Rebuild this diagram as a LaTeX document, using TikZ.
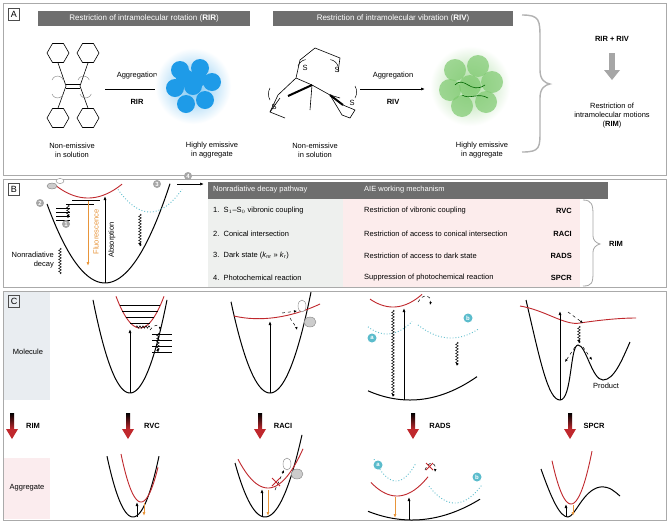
\documentclass[tikz,border=0pt]{standalone}
\usepackage{fontspec}
\setmainfont{Liberation Sans}
\usetikzlibrary{decorations.pathmorphing,arrows.meta,shapes.geometric}
\definecolor{hdr}{HTML}{6E6E6E}
\definecolor{frm}{HTML}{AAAAAA}
\definecolor{rd}{HTML}{C0282D}
\definecolor{org}{HTML}{E8953A}
\definecolor{cy}{HTML}{5BBCCC}
\definecolor{lbg}{HTML}{EEF0EE}
\definecolor{pbg}{HTML}{FCECEC}
\definecolor{mbg}{HTML}{E9EDF1}
\definecolor{abg}{HTML}{FBECEE}
\definecolor{blu}{HTML}{1E9BE8}
\definecolor{grn}{HTML}{5DBB4A}
\tikzset{
 txt/.style={font=\fontsize{7.5}{9}\selectfont,align=center,inner sep=1pt},
 btxt/.style={txt,font=\fontsize{7.5}{9}\selectfont\bfseries},
 panel/.style={draw=frm,line width=0.8pt},
 plab/.style={draw=black!70,font=\fontsize{9}{10}\selectfont,inner sep=1.5pt,minimum width=11pt,minimum height=12pt},
 hbar/.style={fill=hdr,text=white,font=\fontsize{8}{9}\selectfont,inner sep=0pt},
 curveb/.style={line width=1pt,black},
 curver/.style={line width=0.9pt,rd},
 curvec/.style={line width=0.9pt,cy,dotted},
 upar/.style={-{Latex[length=4pt,width=3pt]},line width=0.8pt},
 orar/.style={-{Latex[length=4pt,width=3pt]},line width=1pt,org},
 wav/.style={decorate,decoration={snake,amplitude=1.3pt,segment length=3pt},-{Latex[length=3pt,width=2.5pt]},line width=0.5pt},
 dsh/.style={dashed,-{Latex[length=3pt,width=2.5pt]},line width=0.5pt},
 num/.style={circle,fill=gray!70,text=white,font=\fontsize{6}{6}\selectfont\bfseries,inner sep=0.6pt,minimum size=8pt},
 cnum/.style={circle,fill=cy,text=white,font=\fontsize{6}{6}\selectfont\bfseries,inner sep=0.6pt,minimum size=9pt},
 hexa/.style={regular polygon,regular polygon sides=6,draw,minimum size=22pt,inner sep=0pt,line width=0.6pt},
}
\newcommand{\rdarrow}[2]{%
 \shade[top color=black,bottom color=rd] (#1-2,#2) rectangle (#1+2,#2+16);
 \fill[rd] (#1-6,#2+16) -- (#1+6,#2+16) -- (#1,#2+26) -- cycle;}
\begin{document}
\begin{tikzpicture}[x=1pt,y=-1pt]
\useasboundingbox (0,0) rectangle (669,523);
\fill[white] (0,0) rectangle (669,523);
% ===== Panel A
\draw[panel] (3,3) rectangle (666,175);
\node[plab] (la) at (14,14) {A};
\node[hbar,minimum width=212pt,minimum height=15pt] (ha) at (144,18) {Restriction of intramolecular rotation (\textbf{RIR})};
\node[hbar,minimum width=240pt,minimum height=15pt] (hb) at (393,18) {Restriction of intramolecular vibration (\textbf{RIV})};
% TPE molecule
\node[hexa] (p1) at (58,53) {};
\node[hexa] (p2) at (88,53) {};
\node[hexa] (p3) at (58,118) {};
\node[hexa] (p4) at (88,118) {};
\coordinate (c1) at (66,86); \coordinate (c2) at (80,86);
\draw[line width=0.6pt] (66,84)--(80,84) (66,88)--(80,88);
\draw[line width=0.6pt] (c1)--(p1.south) (c2)--(p2.south) (c1)--(p3.north) (c2)--(p4.north);
\draw[gray,line width=0.4pt] (52,80) arc (200:340:6) (78,80) arc (200:340:6) (52,94) arc (160:20:6) (80,94) arc (160:20:6);
\node[txt] (ta1) at (72,150) {Non-emissive\\in solution};
\draw[-{Latex[length=4pt,width=3pt]},line width=0.7pt] (105,89) -- (170,89);
\node[txt] (ag1) at (137,76) {Aggregation};
\node[btxt] (r1) at (137,102) {RIR};
% blue blob
\shade[inner color=blu!60,outer color=white] (193,86) circle (38);
\foreach \p in {(180,70),(200,68),(212,82),(205,100),(186,104),(175,88),(193,86),(198,78),(185,78)}
 \fill[blu] \p circle (9);
\node[txt] (ta2) at (212,150) {Highly emissive\\in aggregate};
% thiophene molecule
\draw[line width=0.6pt] (300,60)--(315,48)--(340,58)--(338,72) (300,60)--(296,78)--(312,85)--(330,95)--(340,98) (312,85)--(310,110) (330,95)--(342,115) (296,78)--(278,95)--(270,112)--(285,118);
\draw[line width=2pt] (288,96)--(312,85) (330,95)--(343,105);
\draw[line width=0.6pt] (343,105)--(355,110)--(350,118)--(342,115) (270,112)--(280,98);
\node[txt] (s1) at (305,68) {S};
\node[txt] (s2) at (337,70) {S};
\node[txt] (s3) at (274,107) {S};
\node[txt] (s4) at (352,103) {S};
\draw[line width=0.5pt] (270,100) arc (150:210:12) (355,98) arc (30:-30:12) (298,66) arc (200:260:10) (338,66) arc (340:280:10);
\node[txt] (ta3) at (315,150) {Non-emissive\\in solution};
\draw[-{Latex[length=4pt,width=3pt]},line width=0.7pt] (360,89) -- (425,89);
\node[txt] (ag2) at (393,76) {Aggregation};
\node[btxt] (r2) at (393,102) {RIV};
% green blob
\shade[inner color=grn!55,outer color=white] (470,86) circle (40);
\foreach \p in {(455,70),(478,66),(492,82),(486,102),(462,106),(450,90),(470,86)}
 \fill[grn!80,opacity=0.7] \p circle (11);
\draw[green!40!black,line width=0.6pt] (455,85) .. controls (465,75) and (470,95) .. (485,85) (462,95) .. controls (470,100) and (478,92) .. (488,98);
\node[txt] (ta4) at (482,150) {Highly emissive\\in aggregate};
% brace
\draw[gray!60,line width=1.4pt] (522,15) .. controls (540,15) and (540,20) .. (540,40) -- (540,70) .. controls (540,80) and (545,83) .. (550,84) .. controls (545,85) and (540,88) .. (540,98) -- (540,130) .. controls (540,148) and (540,152) .. (522,152);
\node[btxt] (rr) at (612,39) {RIR + RIV};
\fill[gray!70] (609,53) rectangle (615,70);
\fill[gray!70] (604,70) -- (620,70) -- (612,80) -- cycle;
\node[txt] (rim) at (612,116) {Restriction of\\intramolecular motions\\(\textbf{RIM})};
% ===== Panel B
\draw[panel] (3,179) rectangle (666,287);
\node[plab] (lb) at (14,189) {B};
\fill[lbg] (208,199) rectangle (343,287);
\fill[pbg] (343,199) rectangle (580,287);
\node[hbar,minimum width=400pt,minimum height=17pt] (th) at (408,190) {};
\node[txt,text=white,anchor=west] (th1) at (212,190) {Nonradiative decay pathway};
\node[txt,text=white,anchor=west] (th2) at (363,190) {AIE working mechanism};
\foreach \y/\a/\b/\c in {
 211/{1.\ \ S$_1$–S$_0$ vibronic coupling}/{Restriction of vibronic coupling}/RVC,
 234/{2.\ \ Conical intersection}/{Restriction of access to conical intersection}/RACI,
 256/{3.\ \ Dark state (\textit{k}$_{\mathrm{nr}}$ » \textit{k}$_{\mathrm r}$)}/{Restriction of access to dark state}/RADS,
 278/{4.\ \ Photochemical reaction}/{Suppression of photochemical reaction}/SPCR}{
 \node[txt,anchor=west] at (212,\y) {\a};
 \node[txt,anchor=west] at (363,\y) {\b};
 \node[btxt,anchor=east] at (573,\y) {\c};
}
\draw[gray!70,line width=0.8pt] (583,200) .. controls (592,200) and (593,205) .. (593,215) -- (593,236) .. controls (593,240) and (596,243) .. (600,244) .. controls (596,245) and (593,248) .. (593,252) -- (593,272) .. controls (593,283) and (592,286) .. (583,286);
\node[btxt] (rimb) at (616,244) {RIM};
% energy diagram
\draw[curveb] plot[domain=47:170,smooth,samples=40] (\x,{283-0.0235*(\x-105)^2});
\draw[curver] plot[domain=55:122,smooth,samples=30] (\x,{198-0.012*(\x-88)^2});
\draw[curvec] plot[domain=118:182,smooth,samples=30] (\x,{212-0.022*(\x-150)^2});
\foreach \yy/\a/\b in {200/72/100,204/66/94}\draw[line width=0.4pt] (\a,\yy)--(\b,\yy);
\foreach \yy in {208,212,216,220}\draw[line width=0.4pt] (56,\yy)--(70,\yy);
\draw[gray,fill=gray!40] (52,186) ellipse (5 and 3);
\draw[gray,fill=white] (60,181) ellipse (4 and 2.5);
\node[num] (n1) at (66,224) {1};
\node[num] (n2) at (40,203) {2};
\node[num] (n3) at (157,184) {3};
\node[num] (n4) at (188,176) {4};
\draw[-{Latex[length=4pt,width=3pt]},line width=0.7pt] (177,184) -- (204,184);
\draw[orar] (88,201) -- (88,266);
\node[txt,text=org,rotate=90] (fl) at (96,232) {Fluorescence};
\draw[upar] (105,283) -- (105,196);
\node[txt,rotate=90] (ab) at (112,240) {Absorption};
\draw[wav] (140,214) -- (140,246);
\draw[wav] (68,205) -- (68,218);
\draw[decorate,decoration={snake,amplitude=1.3pt,segment length=3pt},line width=0.5pt] (60,248) -- (60,274);
\node[txt,anchor=east,align=right] (nd) at (55,260) {Nonradiative\\decay};
% ===== Panel C
\draw[panel] (3,291) rectangle (666,520);
\fill[mbg] (4,292) rectangle (50,400);
\fill[abg] (4,458) rectangle (50,519);
\node[plab] (lc) at (14,301) {C};
\node[txt] (mol) at (28,352) {Molecule};
\node[txt] (agg) at (27,488) {Aggregate};
% arrows row
\rdarrow{12}{413}\node[btxt] at (33,426) {RIM};
\rdarrow{128}{413}\node[btxt] at (152,426) {RVC};
\rdarrow{260}{413}\node[btxt] at (283,426) {RACI};
\rdarrow{413}{413}\node[btxt] at (440,426) {RADS};
\rdarrow{570}{413}\node[btxt] at (594,426) {SPCR};
% --- Molecule col1
\draw[curveb] plot[domain=93:167,smooth,samples=40] (\x,{393-0.068*(\x-130)^2});
\draw[curver] plot[domain=116:164,smooth,samples=30] (\x,{328-0.055*(\x-140)^2});
\foreach \yy in {305,311,317,323}{\draw[line width=0.35pt] ({140-sqrt((328-\yy)/0.055)},\yy)--({140+sqrt((328-\yy)/0.055)},\yy);}
\foreach \yy in {334,340,346,352}\draw[line width=0.35pt] (152,\yy)--(172,\yy);
\draw[upar] (130,393) -- (130,329);
\draw[decorate,decoration={snake,amplitude=1.2pt,segment length=3pt},line width=0.5pt] (136,327)--(150,327);
\draw[dsh] (150,330) .. controls (156,322) and (160,326) .. (160,330);
\draw[wav] (158,333) -- (158,352);
% --- Molecule col2
\draw[curveb] plot[domain=231:311,smooth,samples=40] (\x,{393-0.06*(\x-270)^2});
\draw[curver] (234,316) .. controls (260,322) and (290,318) .. (320,304);
\draw[upar] (270,393) -- (270,321);
\draw[dsh] (282,313) -- (297,311);
\draw[dsh] (290,318) .. controls (294,325) and (296,326) .. (297,330);
\draw[gray,fill=white] (302,306) ellipse (4 and 6);
\draw[gray,fill=gray!40] (310,322) ellipse (6 and 5);
% --- Molecule col3
\draw[curveb] plot[domain=368:477,smooth,samples=40] (\x,{400-0.0052*(\x-410)^2});
\draw[curver] plot[domain=370:422,smooth,samples=30] (\x,{307-0.015*(\x-393)^2});
\draw[curvec] plot[domain=368:412,smooth,samples=30] (\x,{334-0.02*(\x-387)^2});
\draw[curvec] plot[domain=418:478,smooth,samples=30] (\x,{338-0.012*(\x-451)^2});
\draw[upar] (404,400) -- (404,308);
\draw[wav] (393,310) -- (393,397);
\draw[wav] (457,342) -- (457,366);
\draw[dsh] (418,302) .. controls (424,292) and (432,296) .. (430,305);
\node[cnum] (ca1) at (372,338) {a};
\node[cnum] (cb1) at (468,318) {b};
% --- Molecule col4
\draw[curveb] (526,300) .. controls (540,360) and (548,400) .. (560,400) .. controls (572,400) and (570,345) .. (578,345) .. controls (586,345) and (592,380) .. (603,380) .. controls (614,380) and (622,360) .. (630,342);
\draw[curver] (520,306) .. controls (545,310) and (565,326) .. (580,323) .. controls (600,320) and (620,318) .. (636,318);
\draw[upar] (560,400) -- (560,311);
\draw[dsh] (568,312) -- (583,323);
\draw[wav] (579,326) -- (579,343);
\draw[dsh] (575,347) -- (565,362);
\draw[dsh] (583,347) -- (592,360);
\node[txt] (prod) at (606,386) {Product};
% --- Aggregate col1
\draw[curveb] plot[domain=107:159,smooth,samples=40] (\x,{517-0.09*(\x-133)^2});
\draw[curver] plot[domain=121:158,smooth,samples=30] (\x,{502-0.12*(\x-141)^2});
\draw[upar] (137,517) -- (137,502);
\draw[orar] (144,503) -- (144,516);
% --- Aggregate col2
\draw[curveb] plot[domain=235:302,smooth,samples=40] (\x,{517-0.06*(\x-265)^2});
\draw[curver] plot[domain=238:303,smooth,samples=30] (\x,{488-0.032*(\x-268)^2});
\draw[upar] (262,517) -- (262,489);
\draw[orar] (268,490) -- (268,516);
\draw[dsh] (275,490) -- (284,470);
\draw[rd,line width=0.8pt] (272,478)--(280,486) (280,478)--(272,486);
\draw[gray,fill=white] (287,464) ellipse (4 and 6);
\draw[gray,fill=gray!40] (297,474) ellipse (6 and 5);
% --- Aggregate col3
\draw[curveb] plot[domain=368:480,smooth,samples=40] (\x,{520-0.0045*(\x-412)^2});
\draw[curver] plot[domain=371:428,smooth,samples=30] (\x,{496-0.02*(\x-397)^2});
\draw[curvec] plot[domain=374:416,smooth,samples=30] (\x,{481-0.045*(\x-396)^2});
\draw[curvec] plot[domain=429:482,smooth,samples=30] (\x,{503-0.025*(\x-455)^2});
\draw[orar] (395,497) -- (395,518);
\draw[upar] (409,520) -- (409,497);
\draw[dsh] (425,470) .. controls (429,460) and (436,462) .. (435,472);
\draw[rd,line width=0.8pt] (426,463)--(433,470) (433,463)--(426,470);
\node[cnum] (ca2) at (378,465) {a};
\node[cnum] (cb2) at (477,477) {b};
% --- Aggregate col4
\draw[curveb] (541,469) .. controls (552,500) and (560,517) .. (568,517) .. controls (575,517) and (583,490) .. (600,487) .. controls (610,486) and (615,492) .. (620,496);
\draw[curver] plot[domain=552:592,smooth,samples=30] (\x,{504-0.12*(\x-571)^2});
\draw[upar] (566,517) -- (566,504);
\draw[orar] (573,505) -- (573,516);
\end{tikzpicture}
\end{document}
